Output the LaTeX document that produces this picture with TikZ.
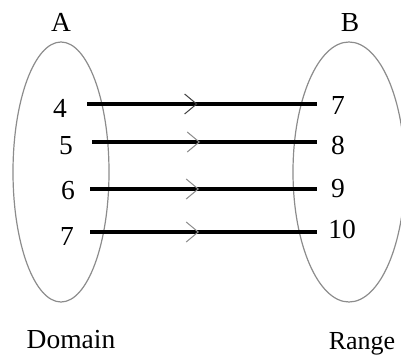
\documentclass[tikz,border=0pt]{standalone}
\usepackage{fontspec}
\setmainfont{Liberation Serif}
\usetikzlibrary{arrows.meta,decorations.markings}
\tikzset{
  setline/.style={black!45,line width=1.2pt},
  label/.style={anchor=base,inner sep=0pt,font=\fontsize{27.5}{31}\selectfont},
  mapline/.style={line width=3.2pt,postaction={decorate},
    decoration={markings,mark=at position 0.48 with
      {\arrow{Straight Barb[length=12pt,width=20pt,line width=1pt,color=#1]}}}},
  mapline/.default={black!45}
}

\begin{document}
\begin{tikzpicture}[x=1pt,y=-1pt]
  \useasboundingbox (0,0) rectangle (401,355);
  % the two sets
  \draw[setline] (61,172) ellipse (48 and 130);
  \draw[setline] (349,172) ellipse (56 and 130);
  \node[label] (A) at (61,32) {A};
  \node[label] (B) at (350,32) {B};
  \node[label] (dom) at (71,348) {Domain};
  \node[label,font=\fontsize{26}{30}\selectfont] (ran) at (362,349) {Range};
  % elements
  \node[label] (a1) at (60,118) {4};
  \node[label] (a2) at (66,155) {5};
  \node[label] (a3) at (68,200) {6};
  \node[label] (a4) at (67,245) {7};
  \node[label] (b1) at (338,115) {7};
  \node[label] (b2) at (338,155) {8};
  \node[label] (b3) at (338,198) {9};
  \node[label] (b4) at (342,238) {10};
  % ends of the mapping lines
  \coordinate (s1) at (87,104);
  \coordinate (e1) at (317,104);
  \coordinate (s2) at (92,142);
  \coordinate (e2) at (317,142);
  \coordinate (s3) at (90,189);
  \coordinate (e3) at (317,189);
  \coordinate (s4) at (90,232);
  \coordinate (e4) at (317,232);
  \draw[mapline=black!75] (s1) -- (e1);
  \draw[mapline] (s2) -- (e2);
  \draw[mapline] (s3) -- (e3);
  \draw[mapline] (s4) -- (e4);
\end{tikzpicture}
\end{document}
